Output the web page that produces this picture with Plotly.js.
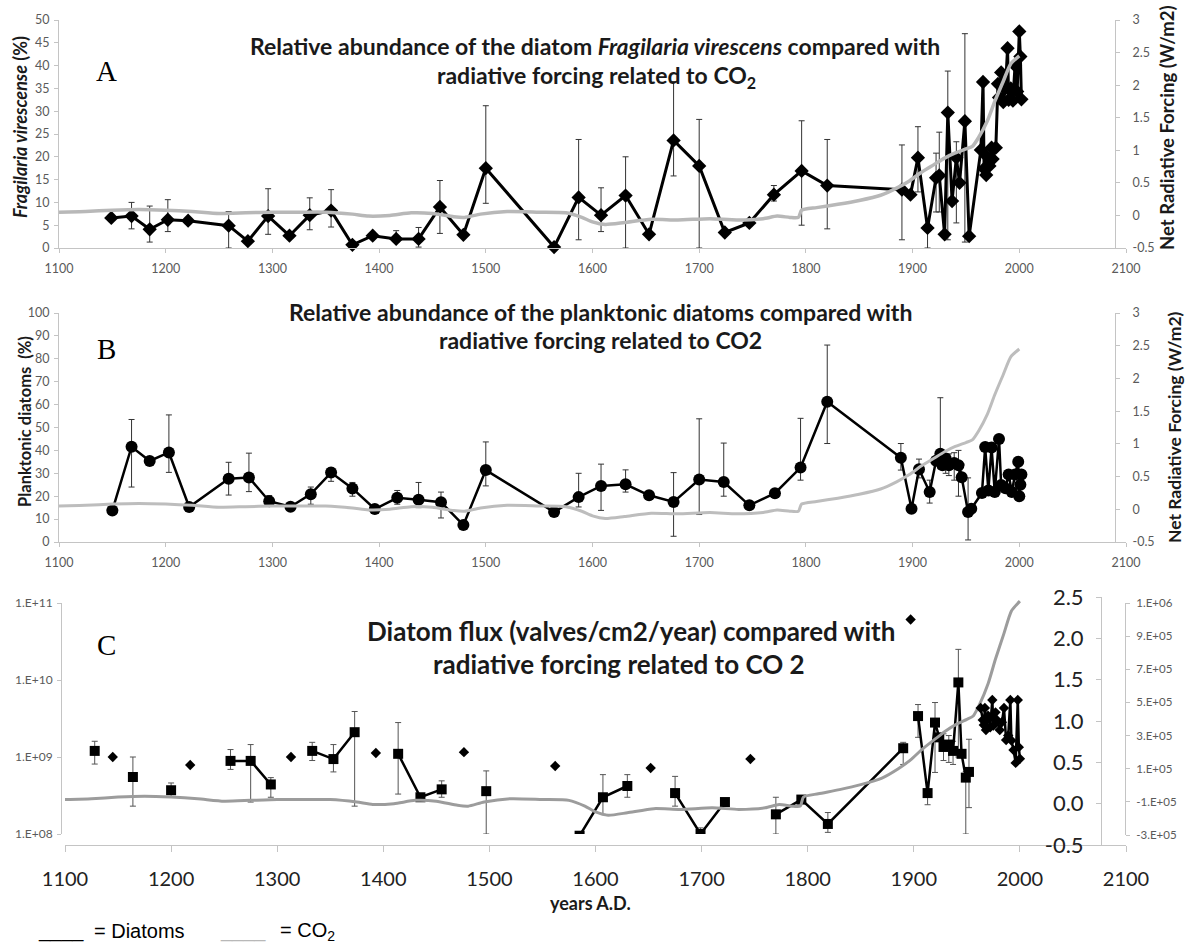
<!DOCTYPE html>
<html><head><meta charset="utf-8">
<script src="https://cdn.plot.ly/plotly-3.0.1.min.js"></script>
<style>html,body{margin:0;padding:0;background:#fff}#chart{width:1185px;height:943px}</style>
</head><body><div id="chart"></div>
<script>
// ---------- Panel A: Fragilaria virescens (%) ----------
const yearsA = [1149,1168,1185,1202,1221,1259,1277,1296,1316,1335,1355,1375,1394,1416,1437,1457,1479,1500,1564,1587,1608,1631,1653,1676,1700,1724,1747,1770,1796,1820,1890,1898,1905,1914,1922,1925,1930,1933,1937,1941,1944,1949,1953,1964,1966,1967,1969,1970,1972,1974,1975,1978,1980,1981,1983,1985,1987,1989,1990,1992,1994,1996,1998,2000,2001,2002];
const fragA = [6.6,7.0,4.1,6.2,6.0,4.9,1.5,7.0,2.7,7.2,8.2,0.7,2.7,2.0,2.0,9.0,2.9,17.5,0.2,11.1,7.2,11.5,3.0,23.6,18.0,3.4,5.5,11.7,16.9,13.7,12.8,11.7,19.8,4.4,15.4,15.9,3.0,29.7,10.3,19.8,14.3,27.8,2.6,21.5,36.4,17.4,16.0,20.0,18.0,22.0,19.5,22.0,36.0,33.0,38.5,32.0,35.0,43.8,32.5,35.0,32.3,40.0,34.3,47.5,42.0,32.6];
const errYearsA = [1168,1185,1202,1259,1296,1335,1355,1416,1437,1457,1500,1587,1608,1631,1676,1700,1770,1796,1820,1890,1905,1914,1922,1925,1933,1941,1949];
const errHiA = [10,9.2,10.6,8,13,11,12.8,3.8,4.5,14.8,31.2,23.8,13.2,20,36.5,28.2,13.7,27.9,23.8,22.6,26.6,4.4,20.8,25.4,38.8,23.3,47];
const errLoA = [4.2,1.3,3.6,0,3,4,4.6,1.2,0.2,3.2,9.8,1.8,3.6,0,15.8,0,10.3,5,4.2,1.8,12.3,0,7.9,7.9,1.8,5.5,1.3];

// ---------- Panel B: planktonic diatoms (%) ----------
const yearsB = [1150,1168,1185,1203,1222,1259,1278,1297,1317,1336,1355,1375,1396,1417,1437,1458,1479,1500,1564,1587,1608,1631,1653,1676,1700,1723,1747,1771,1795,1820,1889,1899,1906,1916,1922,1926,1928,1931,1934,1939,1943,1946,1952,1955,1965,1968,1971,1974,1977,1981,1983,1987,1990,1993,1996,1999,2000,2001,2002];
const planB = [13.8,41.6,35.4,39.1,15.3,27.6,28.2,17.8,15.4,20.9,30.3,23.4,14.4,19.3,18.4,17.4,7.4,31.4,13.1,19.6,24.5,25.2,20.4,17.5,27.3,26.2,16.0,21.3,32.5,61.2,36.8,14.5,31.8,21.8,35.5,38.5,33.5,36.5,33.5,34.5,33.5,28.3,13.1,14.5,21.4,41.5,22.5,41.3,21.8,45.0,24.9,23.5,29.5,21.8,29.5,35.0,20.0,25.0,29.5];
const errYearsB = [1168,1203,1259,1278,1297,1336,1355,1375,1417,1437,1458,1500,1587,1608,1631,1676,1700,1723,1795,1820,1889,1906,1916,1926,1931,1934,1939,1943,1946,1952];
const errHiB = [53.5,55.5,34.8,38.8,20.3,24,32.3,26,22.5,26,21.8,43.7,30,34,31.5,30.3,53.8,43.2,54,86,43,36.2,27,63,37,38.5,39,40,34,28];
const errLoB = [24,30.4,20.5,22,16,16.5,26.5,20,16.5,15,10.5,24.5,15.3,13.8,21.8,2.5,12,20,27,43,31.4,28,17,32,30,29,27,20,28,0.9];

// ---------- Panel C: diatom flux (valves/cm2/year), null = gap ----------
const yearsC = [1128,1145,1164,1182,1200,1218,1256,1275,1294,1313,1333,1353,1373,1393,1414,1435,1455,1476,1497,1562,1585,1607,1630,1652,1675,1699,1722,1746,1770,1794,1819,1890,1897,1904,1913,1920,1924,1928,1933,1937,1942,1945,1949,1952];
const fluxC = [1.2e9,null,5.5e8,null,3.7e8,null,8.9e8,8.9e8,4.4e8,null,1.2e9,9.4e8,2.1e9,null,1.1e9,3.0e8,3.8e8,null,3.6e8,null,9.5e7,3.0e8,4.2e8,null,3.4e8,1.0e8,2.6e8,null,1.8e8,2.8e8,1.35e8,1.3e9,null,3.4e9,3.4e8,2.8e9,1.8e9,1.35e9,1.45e9,1.2e9,9.3e9,1.1e9,5.4e8,6.4e8];
const errYearsC = [1128,1164,1200,1256,1275,1294,1333,1353,1373,1414,1455,1497,1607,1630,1675,1699,1770,1819,1890,1904,1913,1920,1928,1933,1937,1942,1949,1952];
const errHiC = [1.6e9,1.0e9,4.6e8,1.25e9,1.45e9,5.4e8,1.55e9,1.45e9,3.9e9,2.8e9,4.9e8,6.6e8,5.9e8,5.9e8,5.6e8,1.2e8,3.0e8,1.9e8,1.55e9,4.8e9,3.4e8,5.1e9,2.0e9,1.9e9,1.6e9,2.5e10,6.5e8,1.7e9];
const errLoC = [8.1e8,2.3e8,3.0e8,6.9e8,2.6e8,3.0e8,9e8,6.4e8,2.3e8,3.3e8,3.0e8,1.0e8,1.8e8,3.0e8,2.3e8,1.0e8,1.0e8,1.05e8,8e8,1.8e9,2.4e8,6.3e8,9e8,8.5e8,8e8,1.0e9,1.0e8,2.2e8];
// diamonds (secondary right axis)
const yearsDiaIso = [1145,1218,1313,1393,1476,1562,1652,1746,1897];
const diaIso = [1.71e5,1.22e5,1.71e5,1.95e5,2.0e5,1.16e5,1.04e5,1.59e5,1.0e6];
const yearsDiaRec = [1963,1965,1966,1967,1968,1970,1972,1974,1975,1977,1979,1981,1983,1985,1987,1989,1991,1992,1994,1996,1998,1999,2000];
const diaRec = [4.66e5,3.94e5,3.64e5,4.66e5,3.34e5,4.2e5,3.5e5,5.15e5,3.6e5,4.4e5,3.9e5,3.34e5,3.8e5,4.66e5,2.73e5,3.0e5,5.15e5,2.7e5,2.13e5,1.35e5,5.15e5,2.3e5,1.6e5];

// ---------- CO2 radiative forcing (W/m2) ----------
const yearsCO2 = [1100,1125,1150,1175,1200,1225,1250,1275,1300,1325,1350,1375,1390,1410,1430,1450,1470,1480,1495,1520,1550,1575,1590,1600,1612,1630,1655,1680,1710,1735,1760,1773,1785,1793,1796,1810,1830,1850,1870,1885,1897,1908,1920,1930,1940,1950,1956,1962,1970,1977,1985,1992,2000];
const rfCO2 = [0.05,0.06,0.08,0.09,0.08,0.06,0.03,0.04,0.05,0.05,0.05,0.02,-0.01,0.0,0.04,0.03,-0.02,-0.03,0.02,0.06,0.05,0.04,-0.03,-0.1,-0.14,-0.11,-0.06,-0.07,-0.05,-0.07,-0.05,-0.01,-0.03,-0.03,0.08,0.12,0.17,0.23,0.31,0.42,0.53,0.66,0.78,0.88,0.96,1.02,1.06,1.2,1.45,1.75,2.06,2.33,2.45];

// ---------- tick labels ----------
const yearTicks = [1100,1200,1300,1400,1500,1600,1700,1800,1900,2000,2100];
const rfTicksAB = [-0.5,0,0.5,1,1.5,2,2.5,3];
const rfTextAB = ['-0.5','0','0.5','1','1.5','2','2.5','3'];
const rfTicksC = [-0.5,0,0.5,1,1.5,2,2.5];
const rfTextC = ['-0.5','0.0','0.5','1.0','1.5','2.0','2.5'];
const fluxTicks = [1e8,1e9,1e10,1e11];
const fluxText = ['1.E+08','1.E+09','1.E+10','1.E+11'];
const diaTicks = [-3e5,-1e5,1e5,3e5,5e5,7e5,9e5,1.1e6];
const diaText = ['-3.E+05','-1.E+05','1.E+05','3.E+05','5.E+05','7.E+05','9.E+05','1.E+06'];

// ---------- helpers ----------
const W = 1185, H = 943;
const px = v => v / W, py = v => 1 - v / H;
function errs(years, vals, eYears, eHi, eLo, color){
  const plus = years.map(() => 0), minus = years.map(() => 0);
  eYears.forEach((yr, i) => {
    const k = years.indexOf(yr);
    if (k >= 0 && vals[k] != null) { plus[k] = eHi[i] - vals[k]; minus[k] = vals[k] - eLo[i]; }
  });
  return {type:'data', symmetric:false, array:plus, arrayminus:minus, color:color||'#333', thickness:1, width:3};
}
const tickFont = {family:'Lato', size:12.5, color:'#5a5a5a'};
const axBase = {showgrid:false, zeroline:false, showline:true, linecolor:'#c4c4c4', linewidth:1,
  ticks:'outside', ticklen:4, tickcolor:'#c4c4c4', tickfont:tickFont};

const traces = [
  // Panel A
  {x:yearsA, y:fragA, xaxis:'x', yaxis:'y', mode:'lines+markers', line:{color:'#000', width:3},
   marker:{symbol:'diamond', size:11, color:'#000'}, error_y:errs(yearsA, fragA, errYearsA, errHiA, errLoA), cliponaxis:false},
  {x:yearsCO2, y:rfCO2, xaxis:'x', yaxis:'y2', mode:'lines', line:{color:'#b8b8b8', width:3.5, shape:'spline', smoothing:0.6}},
  // Panel B
  {x:yearsB, y:planB, xaxis:'x2', yaxis:'y3', mode:'lines+markers', line:{color:'#000', width:2.5},
   marker:{symbol:'circle', size:12, color:'#000'}, error_y:errs(yearsB, planB, errYearsB, errHiB, errLoB)},
  {x:yearsCO2, y:rfCO2, xaxis:'x2', yaxis:'y4', mode:'lines', line:{color:'#bdbdbd', width:3, shape:'spline', smoothing:0.6}},
  // Panel C
  {x:yearsCO2, y:rfCO2, xaxis:'x3', yaxis:'y6', mode:'lines', line:{color:'#9c9c9c', width:3, shape:'spline', smoothing:0.6}},
  {x:yearsC, y:fluxC, xaxis:'x3', yaxis:'y5', mode:'lines+markers', connectgaps:false, line:{color:'#000', width:2.5},
   marker:{symbol:'square', size:10, color:'#000'}, error_y:errs(yearsC, fluxC, errYearsC, errHiC, errLoC, '#555')},
  {x:yearsDiaIso, y:diaIso, xaxis:'x3', yaxis:'y7', mode:'markers', marker:{symbol:'diamond', size:8, color:'#000'}},
  {x:yearsDiaRec, y:diaRec, xaxis:'x3', yaxis:'y7', mode:'lines+markers', line:{color:'#000', width:2.5},
   marker:{symbol:'diamond', size:8, color:'#000'}}
];

const ann = [];
function txt(t, x, y, size, opts){
  ann.push(Object.assign({text:t, x:px(x), y:py(y), xref:'paper', yref:'paper', showarrow:false,
    xanchor:'center', yanchor:'middle', font:{family:'Lato', size:size, color:'#1a1a1a'}}, opts||{}));
}
// titles
txt('<b>Relative abundance of the diatom <i>Fragilaria virescens</i> compared with</b>', 595, 46, 23);
txt('<b>radiative forcing related to CO<sub>2</sub></b>', 596, 76, 23);
txt('<b>Relative abundance of the planktonic diatoms compared with</b>', 600, 312, 23);
txt('<b>radiative forcing related to CO2</b>', 600, 340, 23);
txt('<b>Diatom flux (valves/cm2/year) compared with</b>', 631, 631, 26);
txt('<b>radiative forcing related to CO 2</b>', 619, 664, 26);
// panel letters
txt('A', 106, 71, 29, {font:{family:'Liberation Serif', size:29, color:'#000'}});
txt('B', 106, 349, 29, {font:{family:'Liberation Serif', size:29, color:'#000'}});
txt('C', 106, 645, 29, {font:{family:'Liberation Serif', size:29, color:'#000'}});
// axis titles
txt('<b><i>Fragilaria virescense</i> (%)</b>', 20, 127, 18, {textangle:-90});
txt('<b>Planktonic diatoms  (%)</b>', 25, 422, 16.5, {textangle:-90});
txt('<b>Net Radiative Forcing (W/m2)</b>', 1167, 128, 18.5, {textangle:-90});
txt('<b>Net Radiative Forcing (W/m2)</b>', 1174, 427, 17.5, {textangle:-90});
txt('<b>years A.D.</b>', 590, 903, 18);
// legend
const lf = {family:'Liberation Sans', size:20, color:'#000'};
txt('____', 36, 930, 20, {xanchor:'left', font:lf});
txt('= Diatoms', 92, 931, 20, {xanchor:'left', font:lf});
txt('____', 218, 930, 20, {xanchor:'left', font:Object.assign({}, lf, {color:'#b8b8b8'})});
txt('= CO<sub>2</sub>', 278, 931, 20, {xanchor:'left', font:lf});

const layout = {
  width:W, height:H, margin:{l:0, r:0, t:0, b:0}, showlegend:false,
  paper_bgcolor:'#fff', plot_bgcolor:'rgba(0,0,0,0)',
  xaxis: Object.assign({}, axBase, {domain:[px(59), px(1126)], range:[1100,2100], anchor:'y', tickvals:yearTicks, ticklabelstandoff:5}),
  yaxis: Object.assign({}, axBase, {domain:[py(248), py(20)], range:[0,50], dtick:5, anchor:'x', ticklabelstandoff:2}),
  yaxis2: Object.assign({}, axBase, {overlaying:'y', side:'right', anchor:'free', position:px(1115), range:[-0.5,3],
    tickvals:rfTicksAB, ticktext:rfTextAB, ticklabelstandoff:10}),
  xaxis2: Object.assign({}, axBase, {domain:[px(59), px(1126)], range:[1100,2100], anchor:'y3', tickvals:yearTicks, ticklabelstandoff:5}),
  yaxis3: Object.assign({}, axBase, {domain:[py(542), py(313)], range:[0,100], dtick:10, anchor:'x2', ticklabelstandoff:2}),
  yaxis4: Object.assign({}, axBase, {overlaying:'y3', side:'right', anchor:'free', position:px(1115), range:[-0.5,3],
    tickvals:rfTicksAB, ticktext:rfTextAB, ticklabelstandoff:10}),
  xaxis3: Object.assign({}, axBase, {domain:[px(65), px(1126)], range:[1100,2100], anchor:'y6', tickvals:yearTicks,
    ticklen:6, ticklabelstandoff:10, tickfont:{family:'Lato', size:20, color:'#222'}}),
  yaxis5: Object.assign({}, axBase, {type:'log', domain:[py(834), py(603)], range:[8,11], anchor:'free', position:px(61), side:'left',
    tickvals:fluxTicks, ticktext:fluxText, ticklabelstandoff:2, tickfont:{family:'Lato', size:12, color:'#5a5a5a'}}),
  yaxis6: Object.assign({}, axBase, {domain:[py(845), py(597)], range:[-0.5,2.5], anchor:'free', position:px(1101), side:'left',
    tickvals:rfTicksC, ticktext:rfTextC, ticklen:5, ticklabelstandoff:8, tickfont:{family:'Lato', size:22, color:'#222'}}),
  yaxis7: Object.assign({}, axBase, {domain:[py(835), py(603)], range:[-3e5,1.1e6], anchor:'free', position:px(1125), side:'right',
    tickvals:diaTicks, ticktext:diaText, ticklabelstandoff:4, tickfont:{family:'Lato', size:11.5, color:'#5a5a5a'}}),
  annotations: ann
};
Plotly.newPlot('chart', traces, layout, {displayModeBar:false, staticPlot:true});
</script></body></html>
